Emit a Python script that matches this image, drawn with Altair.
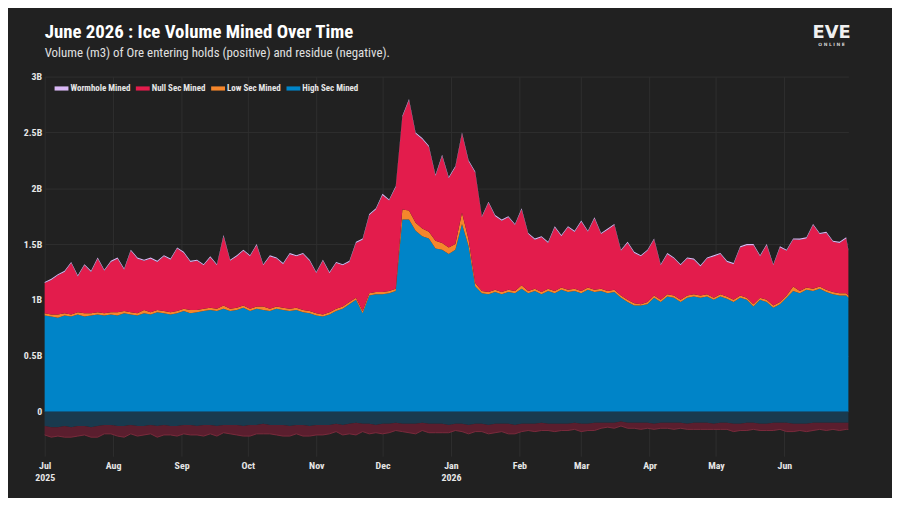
import altair as alt
import pandas as pd

# ---------------- data (values in billions of m3) ----------------
start = pd.Timestamp("2025-07-01")
day_offsets = list(range(0, 364, 3)) + [364]
dates = [(start + pd.Timedelta(days=d)).strftime("%Y-%m-%dT00:00:00") for d in day_offsets]

total_top = [
    1.16, 1.19, 1.23, 1.26, 1.34, 1.22, 1.32, 1.26, 1.38, 1.27,
    1.35, 1.38, 1.28, 1.45, 1.38, 1.36, 1.38, 1.35, 1.40, 1.37,
    1.47, 1.43, 1.35, 1.36, 1.32, 1.39, 1.32, 1.58, 1.36, 1.40,
    1.45, 1.40, 1.50, 1.32, 1.40, 1.38, 1.33, 1.42, 1.40, 1.42,
    1.36, 1.25, 1.36, 1.25, 1.34, 1.32, 1.35, 1.52, 1.55, 1.77,
    1.82, 1.95, 1.90, 2.02, 2.65, 2.80, 2.50, 2.45, 2.38, 2.12,
    2.30, 2.10, 2.20, 2.50, 2.25, 2.15, 1.75, 1.88, 1.76, 1.72,
    1.75, 1.68, 1.82, 1.60, 1.55, 1.57, 1.52, 1.66, 1.58, 1.66,
    1.62, 1.71, 1.62, 1.74, 1.60, 1.64, 1.68, 1.45, 1.52, 1.43,
    1.40, 1.45, 1.55, 1.32, 1.42, 1.38, 1.32, 1.38, 1.37, 1.31,
    1.38, 1.40, 1.42, 1.35, 1.33, 1.48, 1.50, 1.50, 1.40, 1.50,
    1.32, 1.48, 1.45, 1.55, 1.55, 1.56, 1.68, 1.60, 1.61, 1.53,
    1.52, 1.56, 1.45,
]

high_sec = [
    0.86, 0.85, 0.84, 0.86, 0.85, 0.87, 0.85, 0.86, 0.87, 0.86,
    0.87, 0.86, 0.88, 0.87, 0.86, 0.88, 0.87, 0.89, 0.88, 0.87,
    0.88, 0.90, 0.88, 0.89, 0.90, 0.91, 0.90, 0.92, 0.90, 0.91,
    0.93, 0.90, 0.92, 0.91, 0.90, 0.92, 0.91, 0.90, 0.91, 0.89,
    0.88, 0.86, 0.85, 0.87, 0.90, 0.92, 0.96, 1.00, 0.88, 1.04,
    1.05, 1.05, 1.06, 1.08, 1.72, 1.72, 1.62, 1.57, 1.55, 1.46,
    1.45, 1.41, 1.45, 1.68, 1.48, 1.12, 1.06, 1.05, 1.07, 1.05,
    1.07, 1.06, 1.10, 1.06, 1.08, 1.05, 1.08, 1.06, 1.09, 1.07,
    1.08, 1.06, 1.09, 1.07, 1.08, 1.06, 1.07, 1.02, 0.98, 0.95,
    0.95, 0.96, 1.02, 0.98, 1.03, 1.02, 0.98, 1.02, 1.03, 1.02,
    1.03, 1.00, 1.03, 1.01, 0.98, 1.02, 1.00, 0.94, 1.00, 0.98,
    0.93, 0.96, 1.02, 1.08, 1.06, 1.09, 1.08, 1.10, 1.07, 1.05,
    1.04, 1.04, 1.02,
]

low_sec = [
    0.02, 0.02, 0.03, 0.02, 0.02, 0.02, 0.03, 0.02, 0.02, 0.02,
    0.02, 0.03, 0.02, 0.02, 0.02, 0.03, 0.02, 0.02, 0.02, 0.02,
    0.02, 0.02, 0.03, 0.02, 0.02, 0.02, 0.02, 0.03, 0.02, 0.02,
    0.02, 0.02, 0.02, 0.03, 0.02, 0.02, 0.02, 0.02, 0.02, 0.02,
    0.02, 0.02, 0.02, 0.02, 0.02, 0.02, 0.02, 0.02, 0.02, 0.02,
    0.02, 0.02, 0.02, 0.02, 0.09, 0.08, 0.07, 0.07, 0.06, 0.07,
    0.06, 0.06, 0.05, 0.10, 0.06, 0.03, 0.02, 0.02, 0.02, 0.02,
    0.02, 0.02, 0.03, 0.02, 0.02, 0.02, 0.02, 0.02, 0.02, 0.02,
    0.02, 0.02, 0.02, 0.02, 0.02, 0.02, 0.02, 0.02, 0.02, 0.02,
    0.01, 0.02, 0.02, 0.02, 0.02, 0.02, 0.02, 0.02, 0.02, 0.02,
    0.02, 0.02, 0.02, 0.02, 0.02, 0.02, 0.02, 0.02, 0.02, 0.02,
    0.02, 0.02, 0.02, 0.04, 0.02, 0.02, 0.02, 0.02, 0.02, 0.02,
    0.02, 0.02, 0.02,
]

wormhole = [
    0.010, 0.011, 0.010, 0.011, 0.010, 0.010, 0.011, 0.010, 0.011, 0.010,
    0.010, 0.011, 0.010, 0.010, 0.011, 0.010, 0.011, 0.010, 0.010, 0.011,
    0.010, 0.011, 0.010, 0.010, 0.011, 0.010, 0.010, 0.011, 0.010, 0.011,
    0.010, 0.010, 0.011, 0.010, 0.011, 0.010, 0.010, 0.011, 0.010, 0.010,
    0.011, 0.010, 0.010, 0.011, 0.010, 0.011, 0.010, 0.010, 0.011, 0.011,
    0.011, 0.012, 0.011, 0.012, 0.012, 0.012, 0.011, 0.012, 0.011, 0.011,
    0.012, 0.011, 0.011, 0.012, 0.011, 0.011, 0.010, 0.011, 0.010, 0.011,
    0.010, 0.010, 0.011, 0.010, 0.011, 0.010, 0.010, 0.011, 0.010, 0.010,
    0.011, 0.010, 0.010, 0.011, 0.010, 0.011, 0.010, 0.010, 0.011, 0.010,
    0.010, 0.011, 0.010, 0.010, 0.011, 0.010, 0.011, 0.010, 0.010, 0.011,
    0.010, 0.011, 0.010, 0.010, 0.011, 0.010, 0.010, 0.011, 0.010, 0.011,
    0.010, 0.010, 0.011, 0.010, 0.011, 0.010, 0.010, 0.011, 0.010, 0.010,
    0.011, 0.010, 0.010,
]

high_res = [
    0.13, 0.14, 0.14, 0.13, 0.14, 0.13, 0.13, 0.14, 0.13, 0.12,
    0.12, 0.13, 0.13, 0.12, 0.13, 0.13, 0.12, 0.13, 0.12, 0.13,
    0.13, 0.12, 0.12, 0.13, 0.12, 0.12, 0.13, 0.12, 0.12, 0.12,
    0.13, 0.12, 0.12, 0.11, 0.12, 0.12, 0.12, 0.13, 0.12, 0.12,
    0.13, 0.12, 0.12, 0.12, 0.11, 0.12, 0.11, 0.10, 0.11, 0.11,
    0.12, 0.11, 0.11, 0.10, 0.11, 0.11, 0.11, 0.10, 0.11, 0.11,
    0.11, 0.12, 0.11, 0.11, 0.12, 0.11, 0.11, 0.12, 0.11, 0.11,
    0.11, 0.12, 0.11, 0.11, 0.11, 0.10, 0.11, 0.11, 0.11, 0.11,
    0.10, 0.11, 0.11, 0.10, 0.10, 0.10, 0.10, 0.09, 0.10, 0.10,
    0.10, 0.10, 0.11, 0.10, 0.10, 0.10, 0.10, 0.11, 0.10, 0.10,
    0.10, 0.11, 0.10, 0.10, 0.11, 0.11, 0.10, 0.10, 0.11, 0.11,
    0.10, 0.10, 0.10, 0.11, 0.11, 0.11, 0.10, 0.10, 0.10, 0.10,
    0.10, 0.10, 0.10,
]

null_res = [
    0.08, 0.09, 0.08, 0.10, 0.09, 0.09, 0.08, 0.09, 0.10, 0.08,
    0.08, 0.09, 0.10, 0.08, 0.09, 0.08, 0.08, 0.10, 0.09, 0.08,
    0.09, 0.08, 0.09, 0.08, 0.10, 0.08, 0.09, 0.07, 0.08, 0.09,
    0.09, 0.10, 0.08, 0.09, 0.08, 0.09, 0.10, 0.09, 0.08, 0.10,
    0.09, 0.09, 0.09, 0.08, 0.07, 0.09, 0.09, 0.11, 0.07, 0.09,
    0.07, 0.09, 0.08, 0.07, 0.07, 0.08, 0.09, 0.07, 0.08, 0.08,
    0.08, 0.07, 0.06, 0.07, 0.08, 0.07, 0.07, 0.08, 0.08, 0.07,
    0.09, 0.08, 0.07, 0.06, 0.07, 0.07, 0.06, 0.07, 0.06, 0.06,
    0.06, 0.07, 0.06, 0.07, 0.05, 0.04, 0.05, 0.04, 0.05, 0.05,
    0.06, 0.05, 0.05, 0.05, 0.05, 0.06, 0.05, 0.05, 0.06, 0.06,
    0.06, 0.05, 0.06, 0.06, 0.07, 0.06, 0.07, 0.06, 0.06, 0.06,
    0.07, 0.06, 0.08, 0.07, 0.06, 0.07, 0.07, 0.06, 0.07, 0.06,
    0.07, 0.06, 0.06,
]

series_names = ["Wormhole Mined", "Null Sec Mined", "Low Sec Mined", "High Sec Mined"]
series_colors = ["#d9b8f5", "#e31c4c", "#f5862b", "#0084c8"]
stack_order = {"High Sec Mined": 0, "Low Sec Mined": 1, "Null Sec Mined": 2, "Wormhole Mined": 3}

title_text = "June 2026 : Ice Volume Mined Over Time"
subtitle_text = "Volume (m3) of Ore entering holds (positive) and residue (negative)."

# ---------------- tables ----------------
null_sec = [round(t - h - l - w, 4) for t, h, l, w in zip(total_top, high_sec, low_sec, wormhole)]
rows = []
for name, vals in [("High Sec Mined", high_sec), ("Low Sec Mined", low_sec),
                   ("Null Sec Mined", null_sec), ("Wormhole Mined", wormhole)]:
    for d, v in zip(dates, vals):
        rows.append({"date": d, "series": name, "value": v, "order": stack_order[name]})
long_df = pd.DataFrame(rows)
wide_df = pd.DataFrame({"date": dates, "high_res": high_res, "null_res": null_res})

FONT = "Roboto Condensed, DejaVu Sans Condensed, Liberation Sans Narrow, Roboto"
GRID = "#2f2f2f"

x_scale = alt.Scale(domain=[alt.DateTime(year=2025, month=7, date=1),
                            alt.DateTime(year=2026, month=6, date=30)])
y_scale = alt.Scale(domain=[-0.4, 3.0], nice=False, zero=False)

x_axis = alt.Axis(
    title=None, grid=True, gridColor=GRID, domain=False, ticks=False,
    tickCount={"interval": "month", "step": 1},
    labelExpr="(month(datum.value) == 0 || (month(datum.value) == 6 && year(datum.value) == 2025)) ? [timeFormat(datum.value, '%b'), timeFormat(datum.value, '%Y')] : timeFormat(datum.value, '%b')",
    labelColor="#e6e6e6", labelFont=FONT, labelFontSize=10, labelFontWeight="bold",
    labelPadding=4, labelLineHeight=13, labelFlush=False,
)
y_axis = alt.Axis(
    title=None, grid=True, gridColor=GRID, domain=False, ticks=False,
    values=[0, 0.5, 1, 1.5, 2, 2.5, 3],
    labelExpr="datum.value == 0 ? '0' : datum.value + 'B'",
    labelColor="#e6e6e6", labelFont=FONT, labelFontSize=10, labelFontWeight="bold",
    labelPadding=3,
)

neg_high = alt.Chart(wide_df).transform_calculate(
    lo="-datum.high_res"
).mark_area(color="#193a4e", opacity=1).encode(
    x=alt.X("date:T", scale=x_scale, axis=x_axis),
    y=alt.Y("lo:Q", scale=y_scale, axis=y_axis),
    y2=alt.datum(0),
)

neg_null = alt.Chart(wide_df).transform_calculate(
    hi="-datum.high_res", lo="-datum.high_res - datum.null_res"
).mark_area(color="#5a1e2e", opacity=1, line={"color": "#7a2a3c", "strokeWidth": 1}).encode(
    x=alt.X("date:T", scale=x_scale, axis=x_axis),
    y=alt.Y("lo:Q", scale=y_scale, axis=y_axis),
    y2="hi:Q",
)

pos = alt.Chart(long_df).mark_area(opacity=1).encode(
    x=alt.X("date:T", scale=x_scale, axis=x_axis),
    y=alt.Y("value:Q", stack="zero", scale=y_scale, axis=y_axis),
    color=alt.Color(
        "series:N",
        scale=alt.Scale(domain=series_names, range=series_colors),
        legend=alt.Legend(
            title=None, orient="none", legendX=10, legendY=5, direction="horizontal",
            symbolType="M-1,-0.3H1V0.3H-1Z", symbolSize=196, symbolStrokeWidth=0,
            labelColor="#e6e6e6", labelFont=FONT, labelFontSize=9, labelFontWeight="bold",
            columnPadding=5, symbolOffset=0, labelOffset=2,
        ),
    ),
    order=alt.Order("order:Q"),
)

zero_line = alt.Chart(pd.DataFrame({"v": [0]})).mark_rule(color="#0d5a86", strokeWidth=1).encode(
    y=alt.Y("v:Q", scale=y_scale, axis=y_axis)
)

title_mark = alt.Chart(pd.DataFrame({"t": [title_text]})).mark_text(
    font=FONT, fontSize=19, fontWeight="bold", color="#ffffff", align="left", baseline="alphabetic",
).encode(text="t:N", x=alt.value(0), y=alt.value(-39))
subtitle_mark = alt.Chart(pd.DataFrame({"t": [subtitle_text]})).mark_text(
    font=FONT, fontSize=13, color="#e0e0e0", align="left", baseline="alphabetic",
).encode(text="t:N", x=alt.value(0), y=alt.value(-20))

logo_eve = alt.Chart(pd.DataFrame({"t": ["EVE"]})).mark_text(
    font="DejaVu Sans", fontSize=18, fontWeight="bold", color="#f0f0f0", align="center", baseline="middle",
).encode(text="t:N", x=alt.value(794), y=alt.value(-44))
logo_online = alt.Chart(pd.DataFrame({"t": ["O N L I N E"]})).mark_text(
    font="DejaVu Sans", fontSize=4.5, fontWeight="bold", color="#d0d0d0", align="center", baseline="middle",
).encode(text="t:N", x=alt.value(794), y=alt.value(-32))

chart = alt.layer(
    neg_high, neg_null, pos, zero_line, title_mark, subtitle_mark, logo_eve, logo_online
).properties(
    width=811, height=383,
    background="#212121",
    padding={"left": 37, "top": 67, "right": 44, "bottom": 40},
    autosize=alt.AutoSizeParams(type="none"),
).configure_view(stroke=None)

chart.save("out.html", embed_options={"renderer": "svg", "actions": False})
